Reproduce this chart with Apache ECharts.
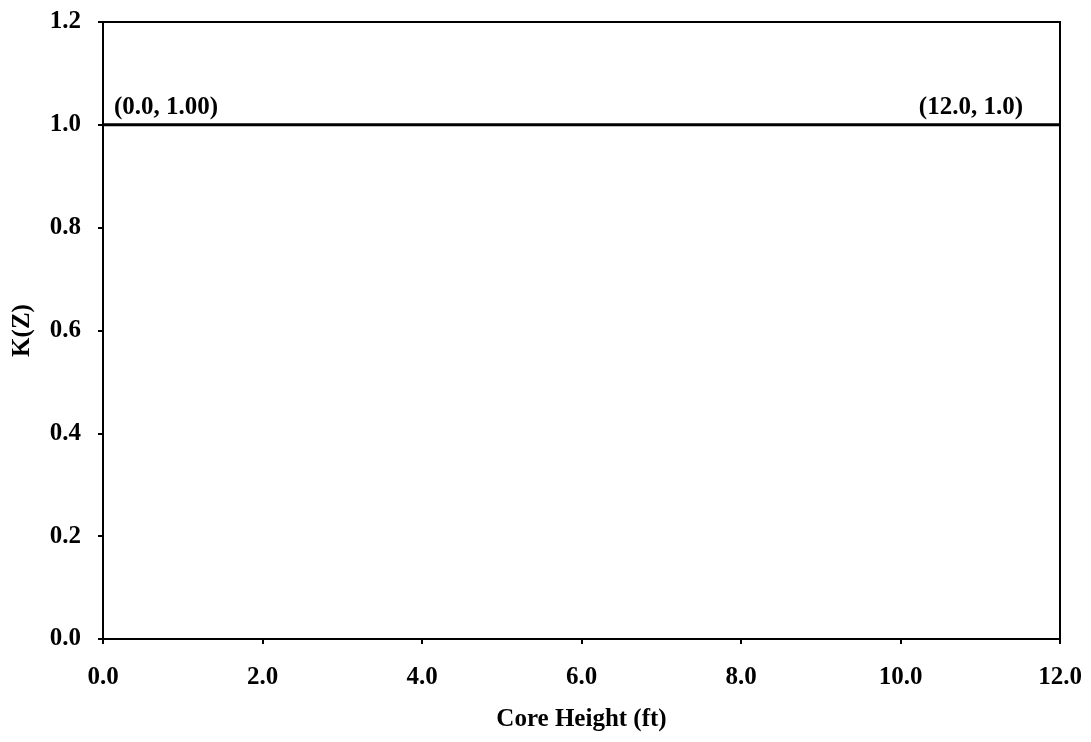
<!DOCTYPE html>
<html>
<head>
<meta charset="utf-8">
<script src="https://cdn.jsdelivr.net/npm/echarts@6/dist/echarts.min.js"></script>
<style>
  html, body { margin: 0; padding: 0; background: #fff; }
  #chart { width: 1091px; height: 742px; }
</style>
</head>
<body>
<div id="chart"></div>
<script>
// data
var coreHeight = [0.0, 12.0];
var kValues = [1.0, 1.0];
var pointLabels = ['(0.0, 1.00)', '(12.0, 1.0)'];

var font = '"Liberation Serif", "Times New Roman", serif';

var lineData = coreHeight.map(function (x, i) {
    return {
        value: [x, kValues[i]],
        label: {
            show: true,
            formatter: pointLabels[i],
            position: 'top',
            align: i === 0 ? 'left' : 'right',
            offset: i === 0 ? [11, 0] : [-37, 0]
        }
    };
});

var myChart = echarts.init(document.getElementById('chart'));

var option = {
    animation: false,
    backgroundColor: '#fff',
    grid: {
        left: 103,
        right: 31,
        top: 22,
        bottom: 103,
        show: true,
        borderColor: '#000',
        borderWidth: 2
    },
    xAxis: {
        type: 'value',
        min: 0,
        max: 12,
        interval: 2,
        name: 'Core Height (ft)',
        nameLocation: 'middle',
        nameGap: 68,
        nameTextStyle: { fontFamily: font, fontWeight: 'bold', fontSize: 25, color: '#000' },
        axisLine: { show: true, lineStyle: { color: '#000', width: 2 } },
        axisTick: { show: true, length: 5, lineStyle: { color: '#000', width: 2 } },
        axisLabel: {
            margin: 26,
            fontFamily: font, fontWeight: 'bold', fontSize: 25, color: '#000',
            formatter: function (v) { return v.toFixed(1); }
        },
        splitLine: { show: false }
    },
    yAxis: {
        type: 'value',
        min: 0,
        max: 1.2,
        interval: 0.2,
        name: 'K(Z)',
        nameLocation: 'middle',
        nameGap: 68,
        nameTextStyle: { fontFamily: font, fontWeight: 'bold', fontSize: 25, color: '#000' },
        axisLine: { show: true, lineStyle: { color: '#000', width: 2 } },
        axisTick: { show: true, length: 5, lineStyle: { color: '#000', width: 2 } },
        axisLabel: {
            margin: 22,
            fontFamily: font, fontWeight: 'bold', fontSize: 25, color: '#000',
            formatter: function (v) { return v.toFixed(1); }
        },
        splitLine: { show: false }
    },
    series: [{
        type: 'line',
        data: lineData,
        symbol: 'circle',
        symbolSize: 0.1,
        showSymbol: true,
        itemStyle: { color: '#000' },
        lineStyle: { color: '#000', width: 3 },
        label: {
            fontFamily: font, fontWeight: 'bold', fontSize: 25, color: '#000'
        }
    }]
};

myChart.setOption(option);
</script>
</body>
</html>
